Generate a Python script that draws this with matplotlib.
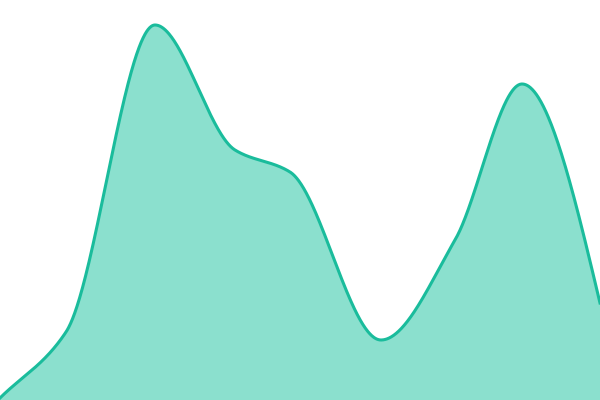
import matplotlib
matplotlib.use('Agg')
import matplotlib.pyplot as plt
import numpy as np

# points (x position, height from bottom)
xs = [0, 66, 155, 235, 290, 381, 455, 522, 600]
vals = [2, 68, 375, 250, 228, 60, 160, 316, 97]

def monotone(x, y, xn):
    x = np.asarray(x, float); y = np.asarray(y, float)
    h = np.diff(x); d = np.diff(y) / h
    m = np.zeros_like(y)
    for i in range(1, len(y) - 1):
        if d[i-1] * d[i] > 0:
            w1 = 2*h[i] + h[i-1]; w2 = h[i] + 2*h[i-1]
            m[i] = (w1 + w2) / (w1/d[i-1] + w2/d[i])
    m[0] = d[0]
    m[-1] = (3*d[-1] - m[-2]) / 2
    idx = np.clip(np.searchsorted(x, xn) - 1, 0, len(h) - 1)
    t = (xn - x[idx]) / h[idx]
    h00 = 2*t**3 - 3*t**2 + 1; h10 = t**3 - 2*t**2 + t
    h01 = -2*t**3 + 3*t**2; h11 = t**3 - t**2
    return h00*y[idx] + h10*h[idx]*m[idx] + h01*y[idx+1] + h11*h[idx]*m[idx+1]

xx = np.linspace(0, 600, 1200)
yy = monotone(xs, vals, xx)

fig = plt.figure(figsize=(6, 4), dpi=100)
ax = fig.add_axes([0, 0, 1, 1])
ax.fill_between(xx, 0, yy, color='#8be0ce', lw=0)
ax.plot(xx, yy, color='#1abc9c', lw=2.2)
ax.set_xlim(0, 600)
ax.set_ylim(0, 400)
ax.axis('off')
fig.savefig('out.png')
